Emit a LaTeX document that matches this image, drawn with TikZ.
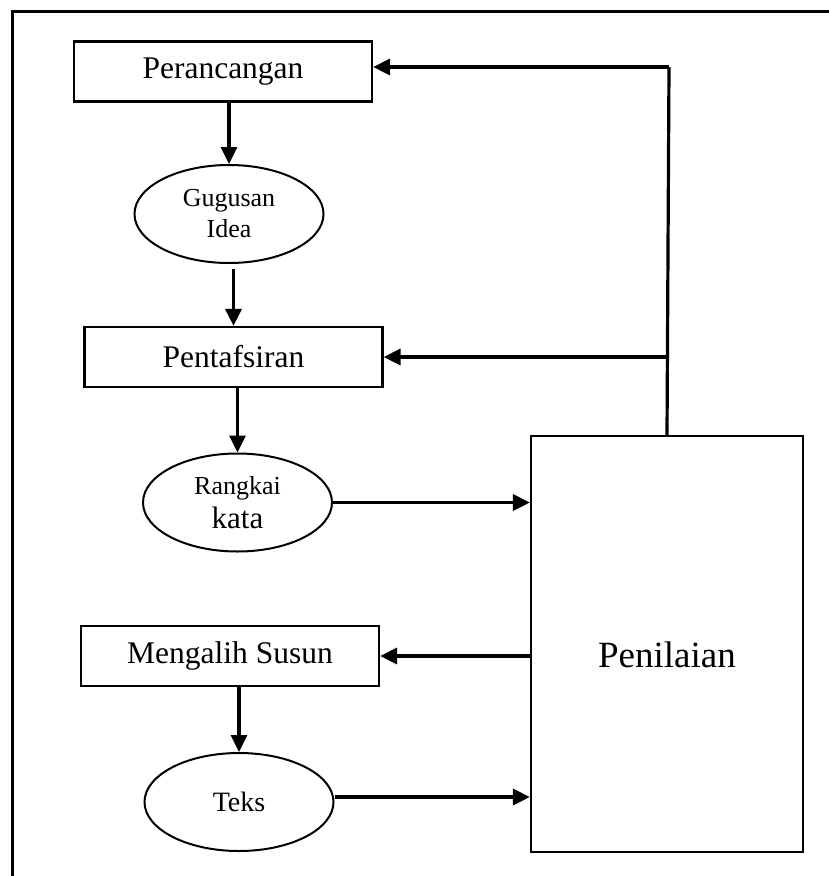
\documentclass[tikz,border=0pt]{standalone}
\usepackage{fontspec}
\setmainfont{Liberation Serif}
\usetikzlibrary{arrows.meta,shapes.geometric}
\begin{document}
\begin{tikzpicture}[x=1pt,y=-1pt,
  box/.style={draw, line width=2.2pt, rectangle, inner sep=0pt,
    minimum width=298pt, minimum height=60pt, font=\fontsize{31.5}{36}\selectfont},
  oval/.style={draw, line width=2pt, ellipse, inner sep=0pt,
    minimum width=189pt, minimum height=98pt, align=center},
  arr/.style={line width=3.2pt, -{Triangle[length=17pt,width=16pt]}},
  link/.style={line width=3.2pt},
  frame/.style={line width=3pt}]
\useasboundingbox (0,0) rectangle (829,876);
% page frame
\draw[frame] (12,876) -- (12,11) -- (829,11);

% left column
\node[box] (pc) at (223,71.5) {Perancangan};
\node[oval, font=\fontsize{26}{31}\selectfont] (gi) at (229,214) {Gugusan\\Idea};
\node[box] (pt) at (233.5,357) {Pentafsiran};
\node[oval] (rk) at (237.5,502.5)
  {{\fontsize{26}{31}\selectfont Rangkai}\\[6pt]{\fontsize{31}{36}\selectfont kata}};
\node[box] (ms) at (230,656) {Mengalih Susun};
\node[oval, font=\fontsize{28}{33}\selectfont] (te) at (239,802) {Teks};

% evaluation block
\node[draw, line width=2.2pt, rectangle, inner sep=0pt,
  minimum width=272pt, minimum height=416pt] (pen) at (667,644) {};
\node[font=\fontsize{37}{42}\selectfont] (penlbl) at ([yshift=-11pt]pen.center) {Penilaian};

% main flow
\draw[arr] (pc.south -| gi.north) -- (gi.north);
\draw[arr, shorten <=5pt] (gi.south -| pt.north) -- (pt.north);
\draw[arr] (pt.south -| rk.north) -- (rk.north);
\draw[arr] (ms.south -| te.north) -- (te.north);

% into and out of the evaluation block
\draw[arr] (rk.east) -- (rk.east -| pen.west);
\draw[arr] ([yshift=5pt]te.east) -- ([yshift=5pt]te.east -| pen.west);
\draw[arr] (ms.east -| pen.west) -- (ms.east);

% feedback loop
\coordinate (top) at (669,67);
\draw[link] (pen.north) -- (top);
\draw[arr] (top) -- (top -| pc.east);
\draw[arr] (pt.east -| pen.north) -- (pt.east);
\end{tikzpicture}
\end{document}
